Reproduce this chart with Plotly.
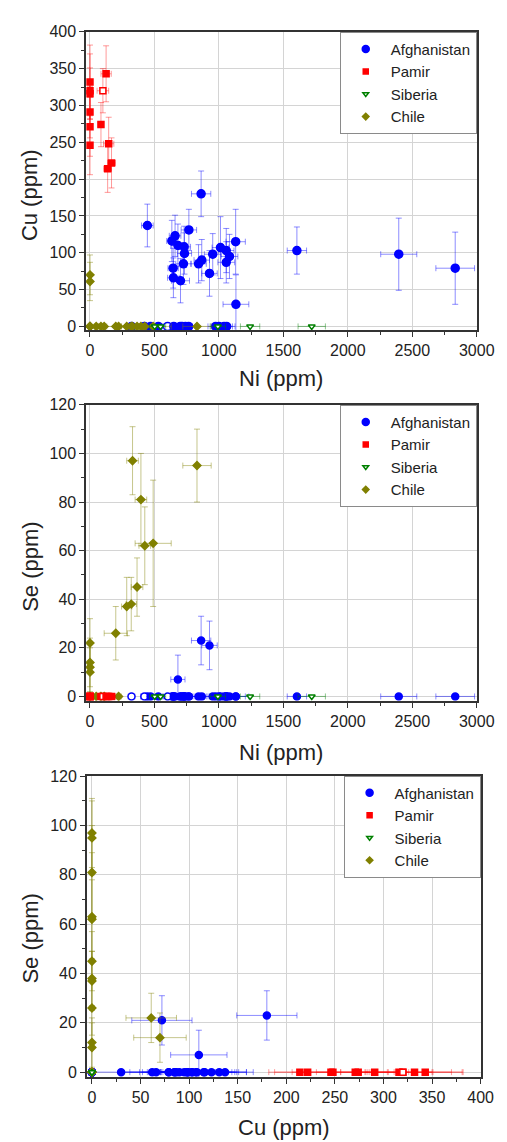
import plotly.graph_objects as go

# ---------------- data (ppm) ----------------
# Afghanistan samples
afg_ni = [445, 862, 635, 660, 645, 647, 682, 730, 733, 725, 702, 767, 842, 867, 927, 952, 1012, 1057, 1057, 1082, 1130, 1132, 1605, 2395, 2833,
          322, 422, 470, 530, 602, 650, 700, 715, 740, 765, 975, 1000, 1040, 1060]
afg_ni_err = [45, 75, 40, 45, 40, 45, 55, 50, 55, 60, 70, 60, 60, 60, 60, 65, 65, 60, 65, 65, 75, 100, 75, 140, 150,
              25, 30, 35, 40, 40, 45, 50, 50, 55, 55, 60, 60, 65, 65]
afg_cu = [137, 180, 116, 123, 79, 66, 110, 108, 99, 85, 62, 131, 85, 90, 72, 98, 107, 103, 87, 95, 115, 30, 103, 98, 79,
          0, 0, 0, 0, 0, 0, 0, 0, 0, 0, 0, 0, 0, 0]
afg_cu_err = [29, 31, 28, 28, 27, 27, 29, 28, 28, 28, 30, 28, 26, 28, 31, 28, 42, 30, 28, 30, 44, 40, 32, 49, 49,
              0, 0, 0, 0, 0, 0, 0, 0, 0, 0, 0, 0, 0, 0]
afg_se = [0, 23, 0, 0, 0, 0, 7, 0, 0, 0, 0, 0, 0, 0, 21, 0, 0, 0, 0, 0, 0, 0, 0, 0, 0,
          0, 0, 0, 0, 0, 0, 0, 0, 0, 0, 0, 0, 0, 0]
afg_se_err = [0, 10, 0, 0, 0, 0, 10, 0, 0, 0, 0, 0, 0, 0, 10, 0, 0, 0, 0, 0, 0, 0, 0, 0, 0,
              0, 0, 0, 0, 0, 0, 0, 0, 0, 0, 0, 0, 0, 0]
afg_open = [0] * 25 + [1, 1, 0, 0, 1, 0, 0, 0, 0, 0, 0, 0, 0, 0]

# Pamir samples
pam_ni = [0, 0, 0, 0, 0, 0, 85, 100, 125, 145, 137, 167]
pam_ni_err = [0, 0, 0, 0, 0, 0, 20, 45, 40, 40, 30, 30]
pam_cu = [332, 320, 316, 291, 271, 246, 274, 320, 343, 248, 214, 222]
pam_cu_err = [50, 50, 35, 35, 40, 40, 30, 30, 38, 36, 32, 34]
pam_se = [0] * 12
pam_se_err = [0] * 12
pam_open = [0, 0, 0, 0, 0, 0, 0, 1, 0, 0, 0, 0]

# Siberia samples
sib_ni = [502, 547, 992, 1242, 1720]
sib_ni_err = [40, 40, 60, 75, 106]
sib_cu = [0, 0, 0, 0, 0]
sib_cu_err = [0, 0, 0, 0, 0]
sib_se = [0, 0, 0, 0, 0]
sib_se_err = [0, 0, 0, 0, 0]
sib_open = [1, 1, 1, 1, 1]

# Chile samples
chl_ni = [0, 0, 0, 0, 0, 48, 85, 110, 200, 222, 285, 320, 330, 365, 395, 425, 490, 830]
chl_ni_err = [0, 0, 0, 0, 0, 15, 20, 20, 90, 20, 40, 40, 45, 45, 45, 45, 140, 110]
chl_cu = [61, 70, 0, 0, 0, 0, 0, 0, 0, 0, 0, 0, 0, 0, 0, 0, 0, 0]
chl_cu_err = [26, 27, 0, 0, 0, 0, 0, 0, 0, 0, 0, 0, 0, 0, 0, 0, 0, 0]
chl_se = [22, 14, 12, 10, 0, 0, 0, 0, 26, 0, 37, 38, 97, 45, 81, 62, 63, 95]
chl_se_err = [10, 10, 10, 10, 0, 0, 0, 0, 11, 0, 12, 11, 14, 12, 19, 16, 26, 15]
chl_open = [0] * 18

regions = ["Afghanistan", "Pamir", "Siberia", "Chile"]
data = {
    "Afghanistan": dict(ni=afg_ni, ni_err=afg_ni_err, cu=afg_cu, cu_err=afg_cu_err, se=afg_se, se_err=afg_se_err, open=afg_open),
    "Pamir": dict(ni=pam_ni, ni_err=pam_ni_err, cu=pam_cu, cu_err=pam_cu_err, se=pam_se, se_err=pam_se_err, open=pam_open),
    "Siberia": dict(ni=sib_ni, ni_err=sib_ni_err, cu=sib_cu, cu_err=sib_cu_err, se=sib_se, se_err=sib_se_err, open=sib_open),
    "Chile": dict(ni=chl_ni, ni_err=chl_ni_err, cu=chl_cu, cu_err=chl_cu_err, se=chl_se, se_err=chl_se_err, open=chl_open),
}

style = {
    "Afghanistan": dict(color="#0000FF", err="rgba(0,0,255,0.45)", symbol="circle", sizes=[8, 7, 7], leg=7),
    "Pamir": dict(color="#FF0000", err="rgba(255,0,0,0.4)", symbol="square", sizes=[6, 6, 6], leg=5),
    "Siberia": dict(color="#008000", err="rgba(0,128,0,0.45)", symbol="triangle-down", sizes=[6, 6, 6], leg=5),
    "Chile": dict(color="#808000", err="rgba(128,128,0,0.45)", symbol="diamond", sizes=[6, 6, 6], leg=5),
}

# panel definitions: (x key, y key, axis suffix, legend name)
panels = [("ni", "cu", "", "legend"), ("ni", "se", "2", "legend2"), ("cu", "se", "3", "legend3")]
draw_order = ["Afghanistan", "Chile", "Pamir", "Siberia"]

W, H = 507, 1142
FONT = "Liberation Sans, Arial, sans-serif"

fig = go.Figure()


def nz(v):
    return [e if e else None for e in v]


for pi, (xk, yk, sfx, leg) in enumerate(panels):
    for r in draw_order:
        d = data[r]
        s = style[r]
        fill = ["white" if o else s["color"] for o in d["open"]]
        fig.add_trace(go.Scatter(
            x=d[xk], y=d[yk], mode="markers", name=r, showlegend=False,
            xaxis="x" + sfx, yaxis="y" + sfx,
            marker=dict(symbol=s["symbol"], size=s["sizes"][pi], color=fill,
                        line=dict(color=s["color"], width=1.5)),
            error_x=dict(type="data", array=nz(d[xk + "_err"]), symmetric=True,
                         color=s["err"], thickness=1, width=3),
            error_y=dict(type="data", array=nz(d[yk + "_err"]), symmetric=True,
                         color=s["err"], thickness=1, width=3),
        ))
    # legend entries
    for r in regions:
        s = style[r]
        fill = "white" if r == "Siberia" else s["color"]
        fig.add_trace(go.Scatter(
            x=[None], y=[None], mode="markers", name=r, legend=leg,
            xaxis="x" + sfx, yaxis="y" + sfx,
            marker=dict(symbol=s["symbol"], size=s["leg"], color=fill,
                        line=dict(color=s["color"], width=1.5)),
        ))

axis_common = dict(
    showline=True, linecolor="#333333", linewidth=1.5, mirror=True,
    showgrid=True, gridcolor="rgb(212,212,212)", gridwidth=1,
    zeroline=False, ticks="outside", ticklen=5, tickwidth=1, tickcolor="#333333",
    tickfont=dict(family=FONT, size=16, color="#222222"),
)


def xd(a, b):
    return [a / W, b / W]


def yd(top, bottom):
    return [1 - bottom / H, 1 - top / H]


fig.update_layout(
    width=W, height=H, margin=dict(l=0, r=0, t=0, b=0),
    paper_bgcolor="white", plot_bgcolor="white",
    font=dict(family=FONT, size=16, color="#222222"),
    xaxis=dict(axis_common, domain=xd(81, 486), range=[-30, 3000], anchor="y",
               tickvals=[0, 500, 1000, 1500, 2000, 2500, 3000],
               minor=dict(dtick=250, tick0=0, ticklen=3, ticks="outside", tickcolor="#333333", showgrid=False)),
    yaxis=dict(axis_common, domain=yd(16, 318), range=[-5.4, 400], anchor="x",
               tickvals=[0, 50, 100, 150, 200, 250, 300, 350, 400],
               minor=dict(dtick=25, tick0=0, ticklen=3, ticks="outside", tickcolor="#333333", showgrid=False)),
    xaxis2=dict(axis_common, domain=xd(81, 486), range=[-30, 3000], anchor="y2",
                tickvals=[0, 500, 1000, 1500, 2000, 2500, 3000],
                minor=dict(dtick=250, tick0=0, ticklen=3, ticks="outside", tickcolor="#333333", showgrid=False)),
    yaxis2=dict(axis_common, domain=yd(393.3, 692.7), range=[-1.8, 120], anchor="x2",
                tickvals=[0, 20, 40, 60, 80, 100, 120],
                minor=dict(dtick=10, tick0=0, ticklen=3, ticks="outside", tickcolor="#333333", showgrid=False)),
    xaxis3=dict(axis_common, domain=xd(81.7, 490), range=[-5.3, 400], anchor="y3",
                tickvals=[0, 50, 100, 150, 200, 250, 300, 350, 400],
                minor=dict(dtick=25, tick0=0, ticklen=3, ticks="outside", tickcolor="#333333", showgrid=False)),
    yaxis3=dict(axis_common, domain=yd(769, 1073.3), range=[-2, 120], anchor="x3",
                tickvals=[0, 20, 40, 60, 80, 100, 120],
                minor=dict(dtick=10, tick0=0, ticklen=3, ticks="outside", tickcolor="#333333", showgrid=False)),
)

leg_common = dict(bgcolor="white", bordercolor="#8a8a8a", borderwidth=1,
                  font=dict(family=FONT, size=15, color="#222222"),
                  itemwidth=40, xanchor="right", yanchor="top", tracegroupgap=0)
fig.update_layout(
    legend=dict(leg_common, x=486 / W, y=1 - 16 / H),
    legend2=dict(leg_common, x=486 / W, y=1 - 393.3 / H),
    legend3=dict(leg_common, x=490 / W, y=1 - 768.3 / H),
)

titles = [
    ("Ni (ppm)", 283.5, 367, 0),
    ("Cu (ppm)", 23, 181, -90),
    ("Ni (ppm)", 283.5, 745, 0),
    ("Se (ppm)", 23, 557, -90),
    ("Cu (ppm)", 286, 1124, 0),
    ("Se (ppm)", 23, 933, -90),
]
for text, px, py, ang in titles:
    fig.add_annotation(text=text, x=px / W, y=1 - py / H, xref="paper", yref="paper",
                       xanchor="center", yanchor="middle", showarrow=False, textangle=ang,
                       font=dict(family=FONT, size=22, color="#222222"))

fig.write_html("out.html")
